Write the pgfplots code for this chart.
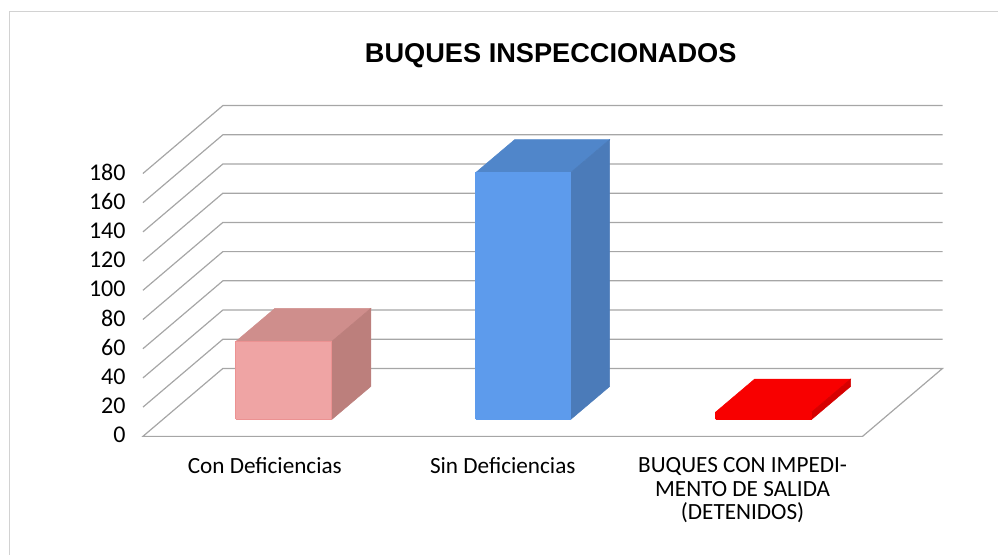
\documentclass[border=0pt]{standalone}
\usepackage{pgfplots}
\pgfplotsset{compat=1.18}
\usepackage{fontspec}
\setmainfont{Carlito}
\newfontfamily\titlefont{Liberation Sans}
\definecolor{gridg}{HTML}{A6A6A6}
\definecolor{frameg}{HTML}{D2D2D2}
\definecolor{pinkF}{HTML}{EFA4A4}
\definecolor{pinkT}{HTML}{CF8E8C}
\definecolor{pinkS}{HTML}{BC7F7C}
\definecolor{pinkE}{HTML}{EC9292}
\definecolor{blueF}{HTML}{5D9BEC}
\definecolor{blueT}{HTML}{5086CA}
\definecolor{blueS}{HTML}{4B7BB9}
\definecolor{redF}{HTML}{F80000}
\definecolor{redS}{HTML}{D60000}
\begin{document}
\begin{tikzpicture}
\begin{axis}[
  scale only axis, width=540pt, height=197.25pt,
  xmin=0, xmax=3, ymin=0, ymax=180,
  clip=false,
  unbounded coords=jump,
  axis line style={draw=none},
  major tick length=0pt,
  ytick={0,20,...,180},
  xtick={0.508,1.5,2.5},
  xticklabels={Con Deficiencias,Sin Deficiencias,{BUQUES CON IMPEDI-\\MENTO DE SALIDA\\(DETENIDOS)}},
  xticklabel style={align=center,font=\fontsize{17.4}{17.5}\selectfont,anchor=north,yshift=-12.5pt},
  yticklabel style={font=\fontsize{18}{18}\selectfont,anchor=east,xshift=-9.5pt,yshift=1pt},
  /pgf/number format/assume math mode=true,
  title={\titlefont\bfseries BUQUES INSPECCIONADOS},
  title style={at={(0.5667,1.416)},anchor=center,font=\fontsize{20.4}{22}\selectfont},
  bar0/.style={y filter/.expression={y+11.6}},
]
\path (axis cs:-0.5958,-81.1) rectangle (axis cs:3.5625,298.8);
% frame
\addplot[frameg,line width=0.75pt] coordinates {(-0.5542,-81.1)(-0.5542,290.9)(3.5625,290.9)};
% walls and floor
\addplot[gridg,line width=0.9pt] coordinates {
 (3,0)(0,0)(0.3333,46.5)(3.3333,46.5)(3,0)(nan,nan)
 (0,20)(0.3333,66.5)(3.3333,66.5)(nan,nan)
 (0,40)(0.3333,86.5)(3.3333,86.5)(nan,nan)
 (0,60)(0.3333,106.5)(3.3333,106.5)(nan,nan)
 (0,80)(0.3333,126.5)(3.3333,126.5)(nan,nan)
 (0,100)(0.3333,146.5)(3.3333,146.5)(nan,nan)
 (0,120)(0.3333,166.5)(3.3333,166.5)(nan,nan)
 (0,140)(0.3333,186.5)(3.3333,186.5)(nan,nan)
 (0,160)(0.3333,206.5)(3.3333,206.5)(nan,nan)
 (0,180)(0.3333,226.5)(3.3333,226.5)
};
% Con Deficiencias
\addplot[bar0,fill=pinkT,draw=pinkT,line width=0.4pt] coordinates {(0.3875,53.4)(0.7875,53.4)(0.95,76)(0.55,76)(0.3875,53.4)};
\addplot[bar0,fill=pinkS,draw=pinkS,line width=0.4pt] coordinates {(0.7875,0)(0.95,22.6)(0.95,76)(0.7875,53.4)(0.7875,0)};
\addplot[bar0,fill=pinkF,draw=pinkE,line width=0.6pt] coordinates {(0.3875,0)(0.7875,0)(0.7875,53.4)(0.3875,53.4)(0.3875,0)};
% Sin Deficiencias
\addplot[bar0,fill=blueT,draw=blueT,line width=0.4pt] coordinates {(1.3875,169)(1.7833,169)(1.9458,191.6)(1.55,191.6)(1.3875,169)};
\addplot[bar0,fill=blueS,draw=blueS,line width=0.4pt] coordinates {(1.7833,0)(1.9458,22.6)(1.9458,191.6)(1.7833,169)(1.7833,0)};
\addplot[bar0,fill=blueF,draw=blueF,line width=0.4pt] coordinates {(1.3875,0)(1.7833,0)(1.7833,169)(1.3875,169)(1.3875,0)};
% Buques con impedimento
\addplot[bar0,fill=redF,draw=redF,line width=0.4pt] coordinates {(2.3875,5)(2.7875,5)(2.95,27.6)(2.55,27.6)(2.3875,5)};
\addplot[bar0,fill=redS,draw=redS,line width=0.4pt] coordinates {(2.7875,0)(2.95,22.6)(2.95,27.6)(2.7875,5)(2.7875,0)};
\addplot[bar0,fill=redF,draw=redF,line width=0.4pt] coordinates {(2.3875,0)(2.7875,0)(2.7875,5)(2.3875,5)(2.3875,0)};
\end{axis}
\end{tikzpicture}
\end{document}
